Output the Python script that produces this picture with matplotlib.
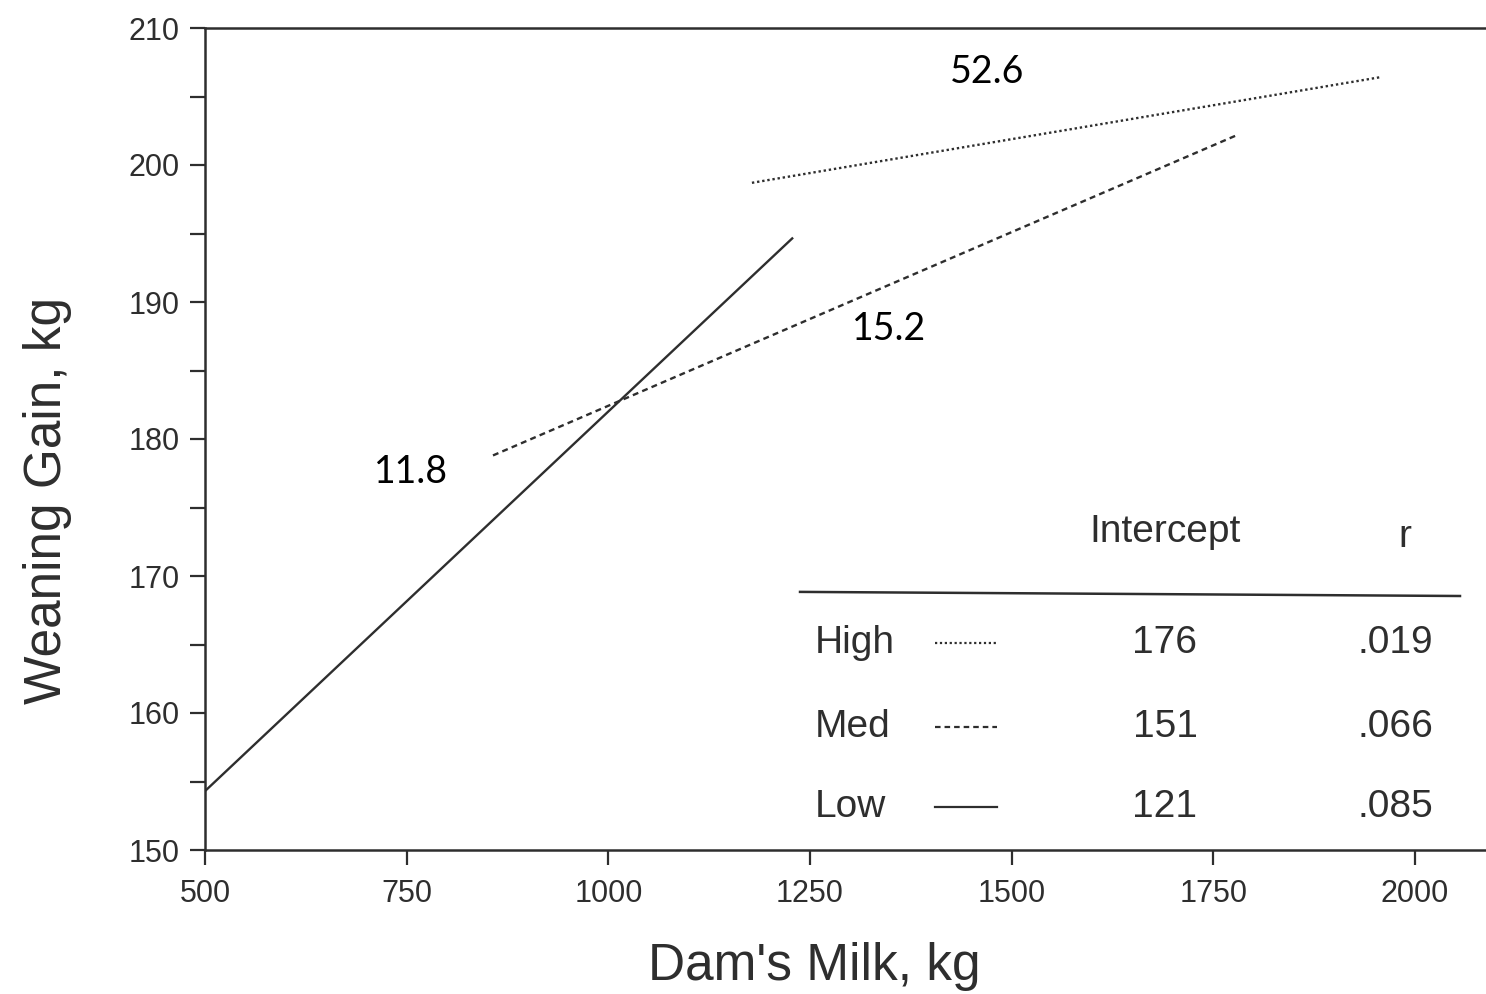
import matplotlib
matplotlib.use("Agg")
import matplotlib.pyplot as plt
from matplotlib.lines import Line2D

# Data (regression lines by milk level)
groups = ["High", "Med", "Low"]
x_start = [1178, 857, 500]
x_end = [1956, 1780, 1229]
y_start = [198.7, 178.8, 154.3]
y_end = [206.4, 202.2, 194.7]
intercepts = ["176", "151", "121"]
r_values = [".019", ".066", ".085"]
slope_labels = ["52.6", "15.2", "11.8"]
slope_label_pos = [(1469, 206.8), (1348, 188.0), (755, 177.6)]
styles = [(0, (1, 1.2)), (0, (2.5, 1.8)), "-"]

x_ticks = [500, 750, 1000, 1250, 1500, 1750, 2000]
y_ticks = [150, 160, 170, 180, 190, 200, 210]

ink = "#2e2e2e"
plt.rcParams["font.family"] = ["Liberation Sans", "DejaVu Sans"]

fig = plt.figure(figsize=(14.86, 9.94), dpi=100)
ax = fig.add_axes([205 / 1486, 1 - 850 / 994, 1 - 205 / 1486, (850 - 28) / 994])

for xs, xe, ys, ye, ls in zip(x_start, x_end, y_start, y_end, styles):
    ax.plot([xs, xe], [ys, ye], color=ink, lw=1.7, linestyle=ls, solid_capstyle="butt")

for txt, (tx, ty) in zip(slope_labels, slope_label_pos):
    ax.text(tx, ty, txt, ha="center", va="center", fontsize=27,
            family=["Lato", "DejaVu Sans"], color="black")

ax.set_xlim(500, 2088)
ax.set_ylim(150, 210)
ax.set_xticks(x_ticks)
ax.set_yticks(y_ticks)
ax.set_yticks([155, 165, 175, 185, 195, 205], minor=True)
ax.tick_params(axis="both", which="both", direction="out", length=11, width=1.6,
               color=ink, labelcolor=ink, labelsize=22)
ax.tick_params(axis="x", pad=10)
ax.tick_params(axis="y", pad=7)

for s in ["left", "bottom", "top"]:
    ax.spines[s].set_linewidth(1.8)
    ax.spines[s].set_color(ink)
ax.spines["right"].set_visible(False)

ax.set_xlabel("Dam's Milk, kg", fontsize=37, color=ink)
ax.set_ylabel("Weaning Gain, kg", fontsize=37, color=ink)
ax.xaxis.set_label_coords(0.476, -0.112)
ax.yaxis.set_label_coords(-0.104, 0.4258)

# Legend table
T = ax.transAxes
fs = 28
ax.text(0.7494, 0.3869, "Intercept", transform=T, ha="center", va="center", fontsize=fs, color=ink)
ax.text(0.9368, 0.3808, "r", transform=T, ha="center", va="center", fontsize=fs, color=ink)
ax.add_line(Line2D([0.4645, 0.9797], [0.3140, 0.3090], transform=T, color=ink, lw=1.8))
row_y = [0.2518, 0.1496, 0.0523]
for g, ls, ic, rv, yy in zip(groups, styles, intercepts, r_values, row_y):
    ax.text(0.476, yy, g, transform=T, ha="left", va="center", fontsize=fs, color=ink)
    ax.add_line(Line2D([0.570, 0.618], [yy, yy], transform=T, color=ink, lw=1.6, linestyle=ls))
    ax.text(0.7494, yy, ic, transform=T, ha="center", va="center", fontsize=fs, color=ink)
    ax.text(0.9586, yy, rv, transform=T, ha="right", va="center", fontsize=fs, color=ink)

fig.savefig("out.png", dpi=100)
